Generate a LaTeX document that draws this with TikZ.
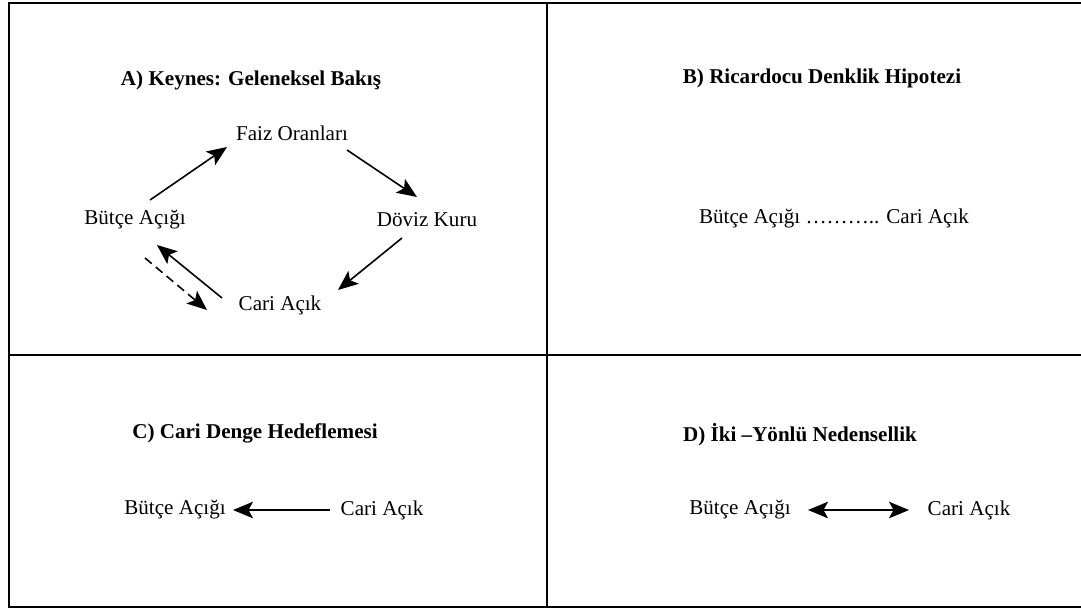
\documentclass[tikz,border=0pt]{standalone}
\usepackage{fontspec}
\setmainfont{Liberation Serif}
\usetikzlibrary{arrows.meta}

\tikzset{
  lbl/.style={font=\fontsize{12}{14}\selectfont, inner sep=0pt},
  ttl/.style={font=\fontsize{12}{14}\selectfont\bfseries, inner sep=0pt},
  arr/.style={line width=0.9pt, -{Stealth[length=4mm, width=3.3mm, inset=0.9mm]}},
  dblarr/.style={line width=0.9pt, {Stealth[length=4mm, width=3.3mm, inset=0.9mm]}-{Stealth[length=4mm, width=3.3mm, inset=0.9mm]}},
  frame/.style={line width=1.6pt},
  divider/.style={line width=1.1pt}
}

\begin{document}
\begin{tikzpicture}[x=0.02cm, y=-0.02cm]
                \useasboundingbox (0, 0) rectangle (1081, 609);
                \coordinate (TL) at (9, 3);
                \coordinate (TR) at (1081, 3);
                \coordinate (BL) at (9, 607);
                \coordinate (BR) at (1081, 607);
                \draw[frame] (TR) -- (TL) -- (BL) -- (BR);
                \draw[divider] (547, 3) -- (547, 607);
                \draw[divider] (9, 355) -- (1081, 355);

                \node[ttl] (tA) at (251, 80) {A) Keynes: Geleneksel Bakış};
                \node[lbl] (faiz) at (292, 133) {Faiz Oranları};
                \node[lbl] (doviz) at (427, 220) {Döviz Kuru};
                \node[lbl] (butce) at (135, 220) {Bütçe Açığı};
                \node[lbl] (cari) at (280, 305) {Cari Açık};
                \draw[arr] ([shift={(15,-20)}]butce.center) -- ([shift={(-65,14)}]faiz.center);
                \draw[arr] ([shift={(55,17)}]faiz.center) -- ([shift={(-10,-23)}]doviz.center);
                \draw[arr] ([shift={(-25,18)}]doviz.center) -- ([shift={(58,-15)}]cari.center);
                \draw[arr] ([shift={(-58,-7)}]cari.center) -- ([shift={(22,25)}]butce.center);
                \draw[arr, dash pattern=on 5pt off 3pt] ([shift={(10,38)}]butce.center) -- ([shift={(-73,5)}]cari.center);

                \node[ttl] (tB) at (822, 78) {B) Ricardocu Denklik Hipotezi};
                \node[lbl] (ric) at (834, 218) {Bütçe Açığı ……….. Cari Açık};

                \node[ttl] (tC) at (255, 433) {C) Cari Denge Hedeflemesi};
                \node[lbl] (butceC) at (175, 510) {Bütçe Açığı};
                \node[lbl] (cariC) at (382, 510) {Cari Açık};
                \draw[arr] ([shift={(-52,0)}]cariC.center) -- ([shift={(58,0)}]butceC.center);

                \node[ttl] (tD) at (800, 435) {D) İki –Yönlü Nedensellik};
                \node[lbl] (butceD) at (740, 510) {Bütçe Açığı};
                \node[lbl] (cariD) at (969, 510) {Cari Açık};
                \draw[dblarr] ([shift={(68,0)}]butceD.center) -- ([shift={(-60,0)}]cariD.center);
            \end{tikzpicture}
\end{document}
